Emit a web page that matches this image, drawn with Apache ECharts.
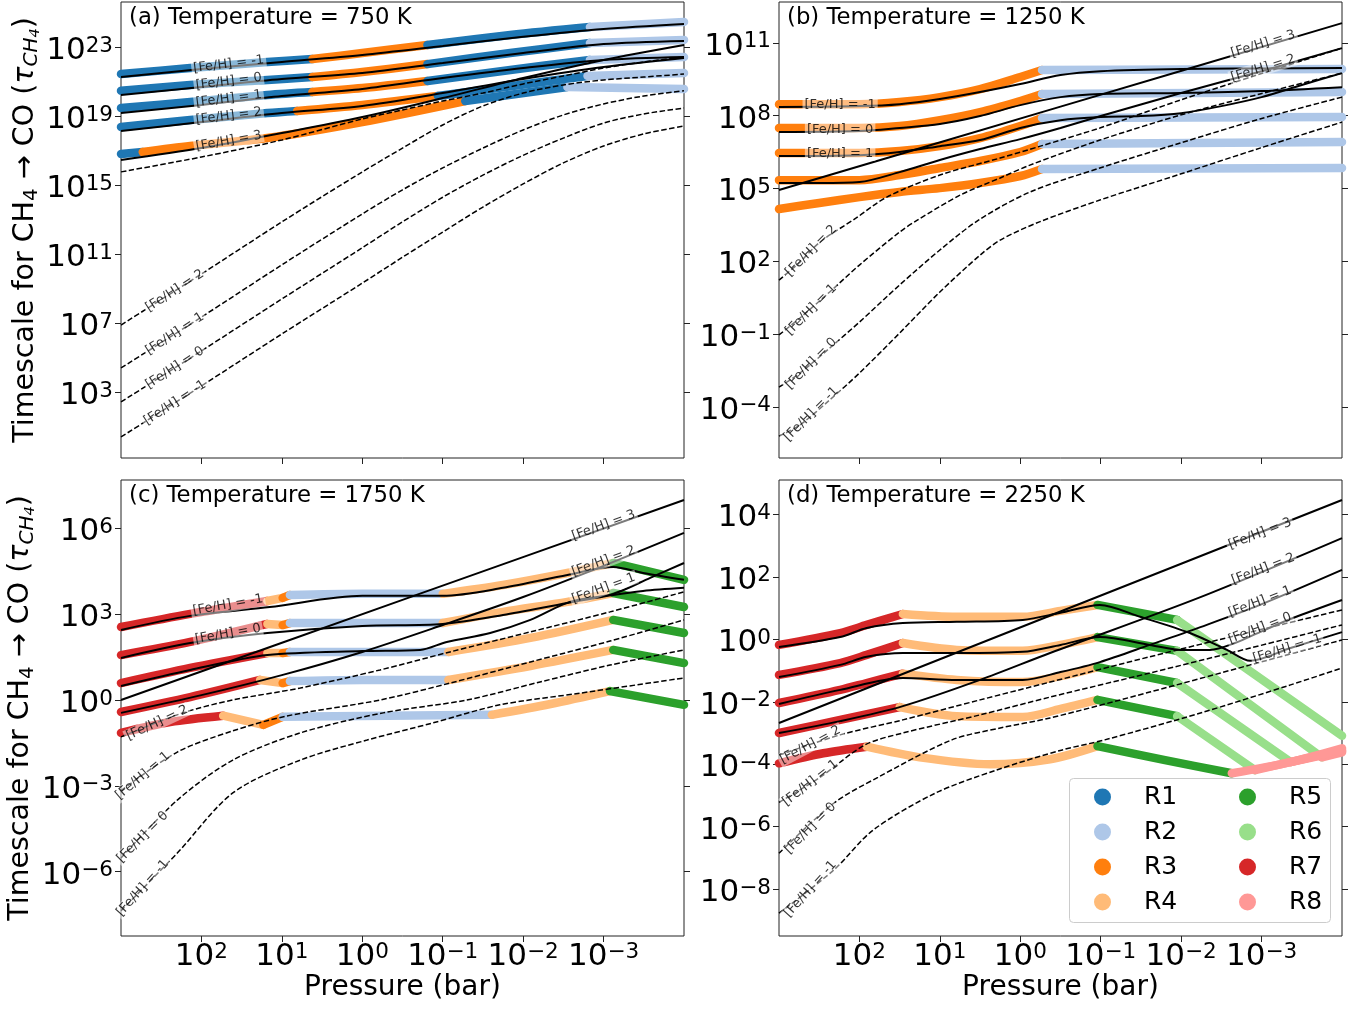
<!DOCTYPE html>
<html>
<head>
<meta charset="utf-8">
<script src="https://cdn.jsdelivr.net/npm/echarts@6/dist/echarts.min.js"></script>
<style>html,body{margin:0;padding:0;background:#fff;}#chart{width:1367px;height:1009px;}</style>
</head>
<body>
<div id="chart"></div>
<script>
// x = log10(Pressure / bar), y = log10(timescale); metallicity order: -1, 0, 1, 2, 3
const regionNames = ['R1','R2','R3','R4','R5','R6','R7','R8'];
const regionColors = ['#1f77b4','#aec7e8','#ff7f0e','#ffbb78','#2ca02c','#98df8a','#d62728','#ff9896'];
const titles = ['(a) Temperature = 750 K','(b) Temperature = 1250 K','(c) Temperature = 1750 K','(d) Temperature = 2250 K'];
const xTickVals = [2,1,0,-1,-2,-3];
const yTickVals = [[3,7,11,15,19,23],[-4,-1,2,5,8,11],[-6,-3,0,3,6],[-8,-6,-4,-2,0,2,4]];
const yRange = [[-0.83,25.61],[-6.11,12.68],[-8.25,7.69],[-9.5,5.1]];

// ---------- (a) 750 K ----------
const aSolid = [
 [[3,21.26],[2,21.72],[1,22.13],[0,22.54],[-1,23.06],[-2,23.59],[-3,24.04],[-4,24.33]],
 [[3,20.22],[2,20.68],[1,21.14],[0,21.49],[-1,22.07],[-2,22.65],[-3,23.17],[-4,23.35]],
 [[3,19.17],[2,19.64],[1,20.16],[0,20.57],[-1,21.20],[-2,21.78],[-3,22.25],[-4,22.42]],
 [[3,18.13],[2,18.65],[1,19.17],[0,19.58],[-1,20.33],[-2,21.14],[-3,21.84],[-4,22.36]],
 [[3,16.45],[2,17.14],[1,18.01],[0,18.94],[-1,20.04],[-2,21.20],[-3,22.25],[-4,23.12]]
];
const aDash = [
 [[3,0.39],[2,3.35],[1,6.36],[0,9.31],[-0.5,10.81],[-1,12.27],[-1.5,13.72],[-2,15.06],[-2.5,16.28],[-3,17.26],[-3.5,17.96],[-4,18.42]],
 [[3,2.42],[2,5.38],[1,8.39],[0,11.36],[-0.5,12.86],[-1,14.29],[-1.5,15.57],[-2,16.72],[-2.5,17.72],[-3,18.59],[-3.5,19.12],[-4,19.46]],
 [[3,4.39],[2,7.34],[1,10.37],[0,13.32],[-0.5,14.72],[-1,15.99],[-1.5,17.14],[-2,18.19],[-2.5,19.06],[-3,19.70],[-3.5,20.16],[-4,20.46]],
 [[3,6.88],[2,9.84],[1,12.86],[0,15.76],[-0.5,17.14],[-1,18.48],[-1.5,19.58],[-2,20.33],[-2.5,20.80],[-3,21.09],[-3.5,21.26],[-4,21.43]],
 [[3,15.76],[2,16.62],[1,17.61],[0,18.83],[-0.5,19.35],[-1,19.87],[-1.5,20.33],[-2,20.86],[-2.5,21.32],[-3,21.78],[-3.5,22.13],[-4,22.42]]
];
// [logP, logTau, region of the stretch that starts here]
const aBand = [
 [[3,21.43,1],[2.14,21.78,1],[1.18,22.13,1],[0.62,22.30,3],[0,22.65,3],[-0.81,23.12,1],[-1.84,23.70,1],[-2.83,24.16,2],[-4,24.45,2]],
 [[3,20.46,1],[2.14,20.80,1],[1.18,21.09,1],[0.62,21.26,3],[0,21.55,3],[-0.81,22.01,1],[-1.84,22.65,1],[-2.83,23.23,2],[-4,23.41,2]],
 [[3,19.46,1],[2.14,19.81,1],[1.18,20.22,1],[0.62,20.39,3],[0,20.62,3],[-0.81,21.03,1],[-1.84,21.67,1],[-2.83,22.25,2],[-4,22.42,2]],
 [[3,18.36,1],[2.14,18.77,1],[1.18,19.17,1],[0.81,19.29,3],[0,19.64,3],[-0.94,20.16,1],[-1.96,20.80,1],[-2.80,21.32,2],[-4,21.49,2]],
 [[3,16.80,1],[2.73,16.91,3],[2.14,17.26,3],[1.18,17.72,3],[0,18.65,3],[-1.28,19.87,1],[-2.55,20.68,2],[-4,20.57,2]]
];
const aLabels = [
 [1.66,22.0,'[Fe/H] = -1',7],[1.66,21.0,'[Fe/H] = 0',7],[1.66,20.0,'[Fe/H] = 1',7],[1.66,19.0,'[Fe/H] = 2',7],[1.66,17.55,'[Fe/H] = 3',10],
 [2.33,8.86,'[Fe/H] = 2',33],[2.33,6.37,'[Fe/H] = 1',33],[2.33,4.40,'[Fe/H] = 0',33],[2.33,2.37,'[Fe/H] = -1',33]
];

// ---------- (b) 1250 K ----------
const bSolid = [
 [[3,8.35],[2,8.39],[1.5,8.47],[1,8.68],[0.5,8.97],[0,9.30],[-0.5,9.67],[-1,9.83],[-2,9.92],[-3,9.94],[-4,9.96]],
 [[3,7.32],[2,7.36],[1.5,7.49],[1,7.65],[0.5,7.98],[0,8.43],[-0.5,8.76],[-1,8.89],[-2,8.93],[-3,9.01],[-4,9.17]],
 [[3,6.33],[2,6.37],[1.5,6.50],[1,6.74],[0.5,6.99],[0,7.49],[-0.5,7.81],[-1,7.94],[-1.5,7.98],[-2,8.10],[-2.5,8.39],[-3,8.76],[-3.5,9.26],[-4,9.75]],
 [[3,5.22],[2.5,5.22],[2,5.26],[1.5,5.67],[1,6.17],[0.5,6.62],[0,7.03],[-0.5,7.49],[-1,7.98],[-2,8.93],[-3,9.83],[-4,10.78]],
 [[3,4.93],[-0.5,8.37],[-4,11.81]]
];
const bDash = [
 [[3,-5.21],[2.74,-4.75],[2.37,-3.72],[2,-2.61],[1.5,-0.96],[1,0.73],[0.5,2.25],[0.25,2.87],[-0.23,3.61],[-0.99,4.52],[-1.99,5.59],[-2.98,6.66],[-4,7.73]],
 [[3,-3.19],[2.74,-2.61],[2.37,-1.58],[2,-0.51],[1.5,1.02],[1,2.46],[0.52,3.69],[-0.12,4.85],[-0.99,5.84],[-1.99,6.87],[-2.98,7.86],[-4,8.76]],
 [[3,-1.04],[2.74,-0.34],[2.37,0.73],[2,1.84],[1.5,3.20],[1.28,3.69],[0.75,4.72],[0.25,5.43],[-0.12,5.96],[-0.99,6.99],[-1.99,8.02],[-2.98,8.89],[-4,9.75]],
 [[3,1.22],[2.74,1.96],[2.49,2.79],[2.04,3.78],[1.66,4.64],[1,5.55],[0.25,6.25],[-0.25,6.74],[-0.99,7.49],[-1.99,8.64],[-2.98,9.71],[-4,10.78]]
];
const bBand = [
 [[3,8.47,3],[2,8.47,3],[1.5,8.56,3],[1,8.76,3],[0.5,9.09,3],[0,9.59,3],[-0.27,9.875,2],[-4,9.92,2]],
 [[3,7.49,3],[2,7.49,3],[1.5,7.57,3],[1,7.81,3],[0.5,8.14,3],[0,8.60,3],[-0.27,8.89,2],[-4,8.97,2]],
 [[3,6.46,3],[2,6.46,3],[1.5,6.54,3],[1,6.74,3],[0.5,7.07,3],[0,7.57,3],[-0.27,7.90,2],[-4,7.94,2]],
 [[3,5.34,3],[2,5.34,3],[1.5,5.55,3],[1,5.84,3],[0.5,6.13,3],[0,6.50,3],[-0.27,6.83,2],[-4,6.91,2]],
 [[3,4.15,3],[2.5,4.40,3],[2,4.64,3],[1.5,4.85,3],[1,5.01,3],[0.5,5.22,3],[0,5.51,3],[-0.27,5.80,2],[-4,5.84,2]]
];
const bLabels = [
 [2.24,8.45,'[Fe/H] = -1',0],[2.24,7.42,'[Fe/H] = 0',0],[2.24,6.42,'[Fe/H] = 1',0],
 [-3.02,10.95,'[Fe/H] = 3',17],[-3.02,9.95,'[Fe/H] = 2',17],
 [2.6,2.43,'[Fe/H] = 2',45],[2.6,0.0,'[Fe/H] = 1',45],[2.6,-2.22,'[Fe/H] = 0',45],[2.6,-4.3,'[Fe/H] = -1',45]
];

// ---------- (c) 1750 K ----------
const cSolid = [
 [[3,2.45],[2.14,2.94],[1.15,3.25],[0,3.64],[-1,3.64],[-1.75,3.92],[-2.55,4.37],[-3.12,4.65],[-3.49,4.44],[-4,4.20]],
 [[3,1.47],[2.14,1.99],[1.18,2.34],[0,2.59],[-1,2.66],[-1.75,2.97],[-2.55,3.39],[-3.12,3.67],[-3.49,3.81],[-4,3.92]],
 [[3,0.49],[2.14,1.05],[1.18,1.57],[0,1.71],[-0.72,1.75],[-1.05,2.03],[-1.59,2.34],[-2.09,2.80],[-2.58,3.43],[-3.12,3.71],[-3.58,4.27],[-4,4.79]],
 [[3,-0.45],[2,0.17],[1,0.87],[0,1.68],[-1,2.62],[-2,3.60],[-3,4.69],[-4,5.84]],
 [[3,0],[-0.5,3.5],[-4,6.99]]
];
const cDash = [
 [[3,-7.37],[2.30,-5.35],[1.61,-3.25],[0.77,-2.10],[-0.06,-1.40],[-0.88,-0.80],[-1.71,-0.17],[-2.71,0.24],[-4,0.77]],
 [[3,-5.52],[2.30,-3.50],[1.61,-2.10],[0.77,-1.15],[-0.26,-0.45],[-1.30,0],[-2.21,0.63],[-3.08,1.22],[-4,1.75]],
 [[3,-3.17],[2.30,-1.82],[1.61,-1.08],[0.94,-0.56],[-0.22,0],[-1.09,0.59],[-2.09,1.33],[-3.08,2.06],[-4,2.80]],
 [[3,-1.29],[2.23,-0.45],[1.61,0],[0.77,0.42],[-0.22,1.05],[-1.09,1.68],[-2.09,2.38],[-3.08,3.08],[-4,3.78]]
];
const cBand = [
 [[3,2.55,7],[2.14,3.01,7],[1.18,3.46,4],[0.99,3.57,3],[0.90,3.67,2],[0,3.71,2],[-1.0,3.71,4],[-1.75,4.02,4],[-2.55,4.44,4],[-3.12,4.79,5],[-4,4.20,5]],
 [[3,1.57,7],[2.14,2.03,7],[1.18,2.66,4],[0.99,2.62,3],[0.90,2.69,2],[0,2.69,2],[-1.0,2.69,4],[-1.75,3.08,4],[-2.55,3.43,4],[-3.12,3.74,5],[-4,3.25,5]],
 [[3,0.59,7],[2.14,1.12,7],[1.18,1.64,4],[0.99,1.64,3],[0.90,1.68,2],[0,1.68,2],[-1.07,1.68,4],[-2.09,2.17,4],[-3.12,2.80,5],[-4,2.34,5]],
 [[3,-0.42,7],[2.14,0.10,7],[1.27,0.70,4],[0.99,0.59,3],[0.90,0.66,2],[0,0.70,2],[-1.07,0.70,4],[-2.09,1.19,4],[-3.12,1.75,5],[-4,1.29,5]],
 [[3,-1.15,7],[2.39,-0.77,7],[1.73,-0.55,4],[1.23,-0.87,3],[0.99,-0.59,2],[-1.61,-0.52,4],[-2.34,-0.14,4],[-3.08,0.31,5],[-4,-0.17,5]]
];
const cLabels = [
 [1.67,3.32,'[Fe/H] = -1',10],[1.67,2.31,'[Fe/H] = 0',10],
 [-3.0,6.1,'[Fe/H] = 3',20],[-3.0,4.85,'[Fe/H] = 2',20],[-3.0,3.9,'[Fe/H] = 1',20],
 [2.55,-0.80,'[Fe/H] = 2',25],[2.73,-2.65,'[Fe/H] = 1',40],[2.73,-4.79,'[Fe/H] = 0',45],[2.73,-6.57,'[Fe/H] = -1',48]
];

// ---------- (d) 2250 K ----------
const dSolid = [
 [[3,-0.25],[2.24,0.07],[1.91,0.36],[1.46,0.52],[0.79,0.56],[-0.03,0.62],[-0.5,0.85],[-0.99,1.10],[-1.49,0.72],[-2.11,0.20],[-2.57,-0.34],[-2.86,-0.69],[-3.36,-0.28],[-4,0.23]],
 [[3,-1.21],[2.24,-0.82],[1.91,-0.56],[1.46,-0.44],[0.79,-0.44],[-0.03,-0.40],[-0.5,-0.18],[-0.99,0.07],[-1.61,-0.18],[-1.99,-0.34],[-2.36,-0.34],[-2.67,-0.12],[-2.98,0.23],[-3.39,0.68],[-4,1.26]],
 [[3,-2.07],[2.24,-1.62],[1.46,-1.24],[0.79,-1.30],[-0.03,-1.30],[-0.5,-1.05],[-0.99,-0.73],[-1.61,-0.18],[-2.24,0.39],[-2.98,1.10],[-4,2.22]],
 [[3,-3.00],[2.24,-2.62],[1.46,-2.14],[0.5,-1.30],[-0.37,-0.44],[-2.24,1.35],[-4,3.24]],
 [[3,-2.68],[-0.5,0.89],[-4,4.46]]
];
const dDash = [
 [[3,-8.77],[2.32,-7.39],[1.83,-6.11],[1.06,-4.93],[0.30,-4.19],[-0.51,-3.55],[-1.05,-3.22],[-2.24,-2.36],[-3.36,-1.46],[-4,-0.92]],
 [[3,-6.85],[2.32,-5.25],[1.77,-4.42],[0.85,-3.22],[0.25,-2.84],[-0.37,-2.52],[-1.61,-1.69],[-2.86,-0.82],[-4,-0.02]],
 [[3,-5.22],[2.49,-4.42],[1.93,-3.38],[1.46,-3.00],[0.50,-2.42],[-0.37,-1.85],[-1.61,-1.08],[-2.86,-0.28],[-4,0.46]],
 [[3,-3.71],[2.24,-3.06],[1.46,-2.58],[0.50,-1.94],[-0.37,-1.37],[-1.61,-0.56],[-2.86,0.23],[-4,0.94]]
];
const dBand = [
 [[3,-0.18,7],[2.24,0.20,7],[1.91,0.46,7],[1.46,0.81,4],[0.79,0.72,4],[-0.03,0.72,4],[-0.50,0.91,4],[-0.96,1.10,5],[-1.95,0.62,6],[-4,-3.09,6]],
 [[3,-1.14,7],[2.24,-0.76,7],[1.91,-0.50,7],[1.46,-0.12,4],[0.79,-0.34,4],[-0.03,-0.37,4],[-0.50,-0.18,4],[-0.96,0.07,5],[-1.95,-0.37,6],[-3.75,-3.78,8],[-4,-3.62,8]],
 [[3,-2.04,7],[2.24,-1.62,7],[1.91,-1.40,7],[1.46,-1.10,4],[0.79,-1.30,4],[-0.03,-1.37,4],[-0.50,-1.18,4],[-0.96,-0.89,5],[-1.95,-1.40,6],[-3.36,-3.93,8],[-4,-3.58,8]],
 [[3,-3.00,7],[2.24,-2.58,7],[1.50,-2.17,4],[0.79,-2.46,4],[-0.03,-2.49,4],[-0.50,-2.23,4],[-0.96,-1.94,5],[-1.95,-2.46,6],[-2.92,-4.19,8],[-4,-3.55,8]],
 [[3,-3.97,7],[2.45,-3.65,7],[1.91,-3.44,4],[1.25,-3.78,4],[0.38,-4.00,4],[-0.37,-3.84,4],[-0.96,-3.42,5],[-1.80,-3.87,5],[-2.63,-4.29,8],[-3.36,-3.93,8],[-4,-3.49,8]]
];
const dLabels = [
 [-2.98,3.38,'[Fe/H] = 3',21],[-3.02,2.25,'[Fe/H] = 2',21],[-2.98,1.2,'[Fe/H] = 1',21],[-2.98,0.35,'[Fe/H] = 0',21],[-3.32,-0.3,'[Fe/H] = -1',17],
 [2.61,-3.38,'[Fe/H] = 2',28],[2.61,-4.6,'[Fe/H] = 1',38],[2.61,-6.05,'[Fe/H] = 0',45],[2.61,-8.0,'[Fe/H] = -1',48]
];

const panels = [
 {solid:aSolid, dash:aDash, band:aBand, labels:aLabels},
 {solid:bSolid, dash:bDash, band:bBand, labels:bLabels},
 {solid:cSolid, dash:cDash, band:cBand, labels:cLabels},
 {solid:dSolid, dash:dDash, band:dBand, labels:dLabels}
];

const FONT = 'DejaVu Sans';
const gridPos = [[121,2],[779,2],[121,480],[779,480]];

function splitSegments(curve) {
  const segs = []; let cur = null;
  for (let i = 0; i < curve.length - 1; i++) {
    const r = curve[i][2];
    if (!cur || cur.r !== r) { cur = {r: r, data: [[curve[i][0], curve[i][1]]]}; segs.push(cur); }
    cur.data.push([curve[i+1][0], curve[i+1][1]]);
  }
  return segs;
}
function powFmt(v) {
  const e = Math.round(v);
  const s = e < 0 ? '\u2212' + (-e) : String(e);
  return '{b|10}{s|' + s + '}';
}
const powRich = {
  b: {fontSize: 31, fontFamily: FONT, color: '#000', lineHeight: 32},
  s: {fontSize: 21.5, fontFamily: FONT, color: '#000', lineHeight: 12, verticalAlign: 'top'}
};

const grid = [], xAxis = [], yAxis = [], series = [];
panels.forEach((p, g) => {
  grid.push({left: gridPos[g][0], top: gridPos[g][1], width: 563, height: 456, show: true,
    borderColor: '#222', borderWidth: 1, backgroundColor: 'transparent'});
  xAxis.push({
    gridIndex: g, type: 'value', position: 'bottom', min: -4, max: 3, inverse: true,
    axisLine: {show: false, onZero: false}, splitLine: {show: false},
    axisTick: {show: true, length: 6, customValues: xTickVals, lineStyle: {color: '#222', width: 1}},
    axisLabel: {show: g >= 2, customValues: xTickVals, formatter: powFmt, rich: powRich, margin: 5, fontSize: 31},
    name: g >= 2 ? 'Pressure (bar)' : '', nameLocation: 'middle', nameGap: 36,
    nameTextStyle: {fontFamily: FONT, fontSize: 28, color: '#000'}
  });
  const yName = (g === 0 || g === 2) ? '{n|Timescale for CH}{d|4}{n| \u2192 CO (}{t|\u03c4}{ds|CH}{dd|4}{n|)}' : '';
  yAxis.push({
    gridIndex: g, type: 'value', position: 'left', min: yRange[g][0], max: yRange[g][1],
    axisLine: {show: false, onZero: false}, splitLine: {show: false},
    axisTick: {show: true, length: 6, customValues: yTickVals[g], lineStyle: {color: '#222', width: 1}},
    axisLabel: {show: true, customValues: yTickVals[g], formatter: powFmt, rich: powRich, margin: 8, fontSize: 31, padding: [8,0,0,0]},
    name: yName, nameLocation: 'middle', nameGap: 74, nameRotate: 90,
    nameTextStyle: {rich: {
      n: {fontSize: 28.5, fontFamily: FONT, color: '#000', lineHeight: 34},
      d: {fontSize: 20, fontFamily: FONT, color: '#000', lineHeight: 22, verticalAlign: 'bottom'},
      t: {fontSize: 28.5, fontFamily: FONT, color: '#000', fontStyle: 'italic'},
      ds: {fontSize: 20, fontFamily: FONT, color: '#000', fontStyle: 'italic', lineHeight: 22, verticalAlign: 'bottom'},
      dd: {fontSize: 14.5, fontFamily: FONT, color: '#000', fontStyle: 'italic', lineHeight: 14, verticalAlign: 'bottom'}
    }}
  });
  yAxis.push({
    gridIndex: g, type: 'value', position: 'right', min: yRange[g][0], max: yRange[g][1],
    axisLine: {show: false, onZero: false}, splitLine: {show: false}, axisLabel: {show: false},
    axisTick: {show: true, length: 6, customValues: yTickVals[g], lineStyle: {color: '#222', width: 1}}
  });
  const yi = 2 * g;
  p.band.forEach(curve => {
    splitSegments(curve).forEach(seg => {
      const col = regionColors[seg.r - 1];
      series.push({type: 'line', name: regionNames[seg.r - 1], xAxisIndex: g, yAxisIndex: yi,
        data: seg.data, smooth: 0.3, symbol: 'none', showSymbol: false,
        lineStyle: {color: col, width: 8.5, cap: 'round', join: 'round'}, itemStyle: {color: col},
        z: 2, silent: true, animation: false});
    });
  });
  p.solid.forEach(c => series.push({type: 'line', xAxisIndex: g, yAxisIndex: yi, data: c,
    smooth: 0.3, symbol: 'none', lineStyle: {color: '#000', width: 2},
    z: 3, silent: true, animation: false}));
  p.dash.forEach(c => series.push({type: 'line', xAxisIndex: g, yAxisIndex: yi, data: c,
    smooth: 0.3, symbol: 'none', lineStyle: {color: '#000', width: 1.5, type: [5.5, 2.5]},
    z: 3, silent: true, animation: false}));
  series.push({type: 'scatter', xAxisIndex: g, yAxisIndex: yi, symbolSize: 1, z: 10, silent: true, animation: false,
    itemStyle: {color: 'rgba(0,0,0,0)'},
    data: p.labels.map(l => ({value: [l[0], l[1]], name: l[2], label: {rotate: l[3]}})),
    label: {show: true, position: 'inside', formatter: q => q.name, fontFamily: FONT, fontSize: 13,
      color: '#000', backgroundColor: 'rgba(255,255,255,0.6)', padding: [1, 2, 0, 2]}
  });
});

const legendText = {fontFamily: FONT, fontSize: 25, color: '#000', lineHeight: 26, padding: [0, 0, 0, 28]};
const option = {
  backgroundColor: '#fff',
  animation: false,
  title: titles.map((t, i) => ({text: t, left: gridPos[i][0] + 8, top: gridPos[i][1] + 5, padding: 0,
    textStyle: {fontFamily: FONT, fontSize: 22.8, fontWeight: 'normal', color: '#000'}})),
  grid: grid, xAxis: xAxis, yAxis: yAxis, series: series,
  graphic: [{type: 'rect', left: 1069, top: 778, z: 50,
    shape: {width: 261, height: 144, r: 4},
    style: {fill: 'rgba(255,255,255,0.8)', stroke: '#cccccc', lineWidth: 1}}],
  legend: [
    {data: ['R1','R2','R3','R4'], orient: 'vertical', left: 1094, top: 784, itemWidth: 17, itemHeight: 17,
     itemGap: 9, icon: 'circle', selectedMode: false, z: 60, padding: 0, textStyle: legendText},
    {data: ['R5','R6','R7','R8'], orient: 'vertical', left: 1239, top: 784, itemWidth: 17, itemHeight: 17,
     itemGap: 9, icon: 'circle', selectedMode: false, z: 60, padding: 0, textStyle: legendText}
  ]
};
const chart = echarts.init(document.getElementById('chart'), null, {renderer: 'canvas'});
chart.setOption(option);
</script>
</body>
</html>
